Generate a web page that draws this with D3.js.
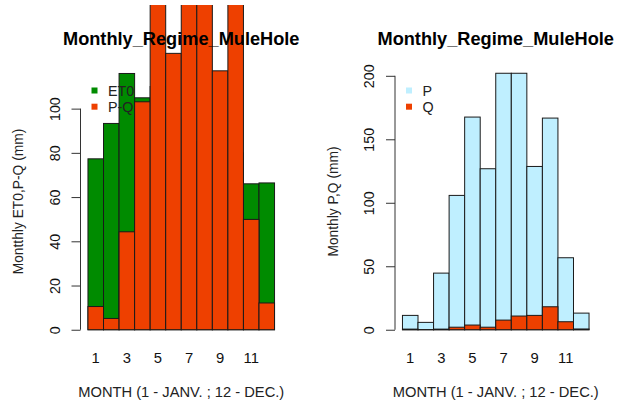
<!DOCTYPE html>
<html>
<head>
<meta charset="utf-8">
<script src="https://cdn.jsdelivr.net/npm/d3@7"></script>
<style>
  html, body { margin: 0; padding: 0; background: #fff; }
  svg { display: block; font-family: "Liberation Sans", Arial, Helvetica, sans-serif; }
</style>
</head>
<body>
<svg id="chart" width="629" height="405"></svg>
<script>
// ---- data ----
const months = [1,2,3,4,5,6,7,8,9,10,11,12];
const monthLabels = ["1","3","5","7","9","11"];
const labelMonths = [1,3,5,7,9,11];
const et0 = [77.3, 93.3, 115.9, 104.9, 110, 95, 85, 85, 90, 80, 66.0, 66.4];
const pMinusQ = [10.5, 5.1, 44.3, 103.1, 164, 125, 195, 192, 117.1, 149, 49.9, 12.1];
const precip = [11.3, 5.8, 44.6, 105.8, 167.5, 126.8, 202, 202, 128.6, 166.7, 56.7, 13.1];
const runoff = [0.5, 0.1, 0.5, 2.0, 3.7, 2.0, 7.6, 10.8, 11.3, 18.1, 6.3, 0.6];
const leftTicks = [0, 20, 40, 60, 80, 100];
const rightTicks = [0, 50, 100, 150, 200];
const titleText = "Monthly_Regime_MuleHole";
const xTitle = "MONTH (1 - JANV. ; 12 - DEC.)";
const leftYTitle = "Montthly ET0,P-Q (mm)";
const rightYTitle = "Monthly P,Q (mm)";

const GREEN = "#008B00", RED = "#EE4000", LBLUE = "#BFEFFF";

const svg = d3.select("#chart");
svg.append("defs").append("clipPath").attr("id","clipTop")
  .append("rect").attr("x",0).attr("y",5).attr("width",629).attr("height",400);

function panel(opts) {
  const x = d3.scaleLinear().domain([-0.48, 12.48]).range([opts.left, opts.left + 201.5]);
  const y = d3.scaleLinear().domain(opts.ydom).range([340, 63]);
  const g = svg.append("g");
  const bars = g.append("g").attr("clip-path","url(#clipTop)");
  opts.series.forEach(s => {
    bars.selectAll(null).data(s.values).enter().append("rect")
      .attr("x", (d,i) => x(i))
      .attr("width", (d,i) => x(i+1) - x(i))
      .attr("y", d => y(d))
      .attr("height", d => y(0) - y(d))
      .attr("fill", s.color)
      .attr("stroke", "#1a1a1a")
      .attr("stroke-width", 1);
  });
  // y axis
  const ax = d3.axisLeft(y).tickValues(opts.ticks).tickSize(9).tickSizeOuter(0);
  const axg = g.append("g").attr("transform", `translate(${opts.left},0)`).call(ax);
  axg.select(".domain").remove();
  axg.append("line").attr("x1",0).attr("x2",0)
    .attr("y1", y(opts.ticks[0])).attr("y2", y(opts.ticks[opts.ticks.length-1]))
    .attr("stroke","#333");
  axg.selectAll(".tick line").attr("stroke","#333");
  axg.selectAll(".tick text")
    .attr("x",0).attr("y",0).attr("dy","0.35em")
    .attr("text-anchor","middle")
    .attr("transform","translate(-26,0) rotate(-90)")
    .attr("font-size",14.3).attr("fill","#111")
    .attr("font-family","Liberation Sans, Arial, sans-serif");
  // x labels
  g.selectAll(null).data(labelMonths).enter().append("text")
    .attr("x", d => x(d - 0.5)).attr("y", 358).attr("dy","0.35em")
    .attr("text-anchor","middle").attr("font-size",14.8).attr("fill","#111")
    .text((d,i) => monthLabels[i]);
  const cx = (x.range()[0] + x.range()[1]) / 2;
  g.append("text").attr("x", cx).attr("y", 391.7).attr("dy","0.35em")
    .attr("text-anchor","middle").attr("font-size",14.7).attr("fill","#222").text(xTitle);
  g.append("text").attr("x", cx).attr("y", 45)
    .attr("text-anchor","middle").attr("font-size",18.2).attr("font-weight","bold").attr("fill","#000").text(titleText);
  g.append("text").attr("transform", `translate(${opts.left - 62},201.5) rotate(-90)`)
    .attr("dy","0.35em").attr("text-anchor","middle").attr("font-size",13.8).attr("fill","#222")
    .text(opts.ytitle);
  // legend
  opts.legend.forEach((l, i) => {
    const ly = 90.5 + i * 16.2;
    g.append("rect").attr("x", opts.left + 11).attr("y", ly - 3).attr("width",6).attr("height",6).attr("fill", l.color);
    g.append("text").attr("x", opts.left + 27.5).attr("y", ly).attr("dy","0.35em")
      .attr("font-size",14.3).attr("fill","#222").text(l.name);
  });
}

panel({
  left: 80.5, ydom: [-4.64, 120.64], ticks: leftTicks, ytitle: leftYTitle,
  series: [{values: et0, color: GREEN}, {values: pMinusQ, color: RED}],
  legend: [{name:"ET0", color: GREEN}, {name:"P-Q", color: RED}]
});
panel({
  left: 395, ydom: [-8.08, 210.08], ticks: rightTicks, ytitle: rightYTitle,
  series: [{values: precip, color: LBLUE}, {values: runoff, color: RED}],
  legend: [{name:"P", color: LBLUE}, {name:"Q", color: RED}]
});
</script>
</body>
</html>
